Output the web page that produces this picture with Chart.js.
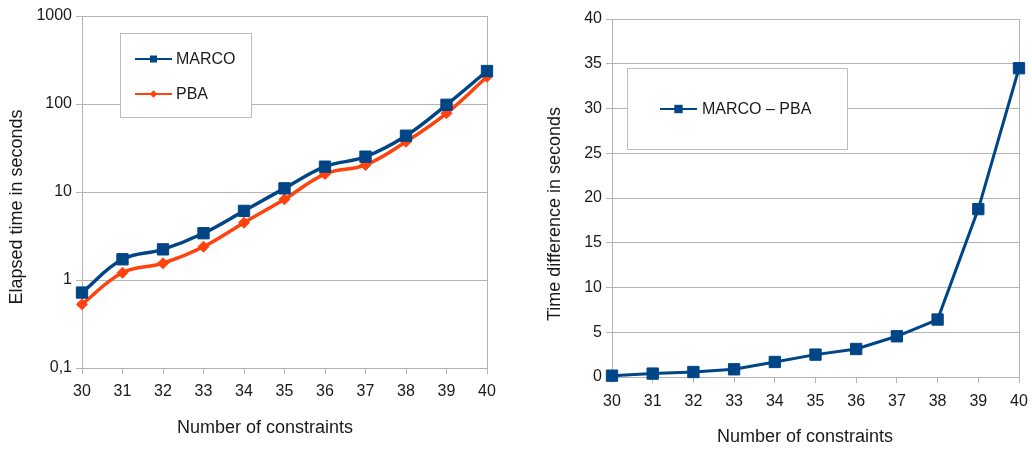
<!DOCTYPE html>
<html>
<head>
<meta charset="utf-8">
<script src="https://cdn.jsdelivr.net/npm/chart.js@4.4.1/dist/chart.umd.min.js"></script>
<style>
  html, body { margin: 0; padding: 0; background: #ffffff; }
  #wrap { position: relative; width: 1032px; height: 453px; }
  #wrap canvas { position: absolute; left: 0; top: 0; }
</style>
</head>
<body>
<div id="wrap">
  <canvas id="timesChart" width="1032" height="453"></canvas>
  <canvas id="diffChart" width="1032" height="453"></canvas>
</div>
<script>
// Number of constraints on the x axis
const constraints = ['30', '31', '32', '33', '34', '35', '36', '37', '38', '39', '40'];

// Elapsed time in seconds
const marcoTimes = [0.72, 1.72, 2.23, 3.4, 6.1, 11.0, 19.4, 25.2, 43.6, 98, 237];
const pbaTimes   = [0.53, 1.21, 1.55, 2.39, 4.48, 8.26, 16.0, 20.3, 37.3, 78.4, 204];

// MARCO minus PBA, in seconds
const timeDiff = [0.15, 0.38, 0.56, 0.86, 1.68, 2.5, 3.13, 4.55, 6.42, 18.76, 34.5];

// Tick labels
const logTickValues = [0.1, 1, 10, 100, 1000];
const logTickLabels = ['0,1', '1', '10', '100', '1000'];
const diffTickValues = [0, 5, 10, 15, 20, 25, 30, 35, 40];
const diffTickLabels = ['0', '5', '10', '15', '20', '25', '30', '35', '40'];

const BLUE = '#004586';
const ORANGE = '#ff420e';
const GRID = '#b3b3b3';
const TEXT = '#1a1a1a';
const FONT = "'Liberation Sans', Arial, sans-serif";

Chart.defaults.font.family = FONT;
Chart.defaults.font.size = 16;
Chart.defaults.color = TEXT;

function drawMarker(ctx, style, x, y, r, color) {
  ctx.save();
  ctx.fillStyle = color;
  ctx.beginPath();
  if (style === 'rect') {
    ctx.rect(x - r, y - r, 2 * r, 2 * r);
  } else {
    ctx.moveTo(x - r, y);
    ctx.lineTo(x, y - r);
    ctx.lineTo(x + r, y);
    ctx.lineTo(x, y + r);
    ctx.closePath();
  }
  ctx.fill();
  ctx.restore();
}

// Plot frame, boxed legend and axis titles
const framePlugin = {
  id: 'frame',
  beforeDatasetsDraw(chart, args, opts) {
    const ctx = chart.ctx;
    const a = chart.chartArea;
    ctx.save();
    ctx.strokeStyle = GRID;
    ctx.lineWidth = 1;
    ctx.beginPath();
    ctx.moveTo(Math.round(a.right) + 0.5, a.top);
    ctx.lineTo(Math.round(a.right) + 0.5, a.bottom);
    ctx.stroke();

    // legend box
    const L = opts.legend;
    ctx.fillStyle = '#ffffff';
    ctx.fillRect(L.x, L.y, L.w, L.h);
    ctx.strokeStyle = '#bdbdbd';
    ctx.strokeRect(L.x + 0.5, L.y + 0.5, L.w, L.h);
    chart.data.datasets.forEach((ds, i) => {
      const e = L.items[i];
      ctx.strokeStyle = ds.borderColor;
      ctx.lineWidth = 2;
      ctx.beginPath();
      ctx.moveTo(e.x1, e.y);
      ctx.lineTo(e.x2, e.y);
      ctx.stroke();
      drawMarker(ctx, ds.pointStyle, (e.x1 + e.x2) / 2, e.y, e.r, ds.borderColor);
      ctx.fillStyle = TEXT;
      ctx.font = '16px ' + FONT;
      ctx.textAlign = 'left';
      ctx.textBaseline = 'middle';
      ctx.fillText(ds.label, e.tx, e.y + 1);
    });

    // axis titles
    ctx.fillStyle = TEXT;
    ctx.font = '18px ' + FONT;
    ctx.textAlign = 'center';
    ctx.textBaseline = 'middle';
    ctx.fillText(opts.xTitle.text, opts.xTitle.x, opts.xTitle.y);
    ctx.save();
    ctx.translate(opts.yTitle.x, opts.yTitle.y);
    ctx.rotate(-Math.PI / 2);
    ctx.fillText(opts.yTitle.text, 0, 0);
    ctx.restore();
    ctx.restore();
  }
};

function xScale(height, pad) {
  return {
    type: 'category',
    offset: false,
    grid: { display: true, drawOnChartArea: false, drawTicks: true, tickLength: 6, color: GRID },
    border: { display: true, color: GRID },
    ticks: { padding: pad, maxRotation: 0, autoSkip: false, font: { size: 16 } },
    afterFit(scale) {
      scale.height = height;
      scale.paddingLeft = 0;
      scale.paddingRight = 0;
    }
  };
}

// Left: elapsed time on a logarithmic axis
new Chart(document.getElementById('timesChart'), {
  type: 'line',
  data: {
    labels: constraints,
    datasets: [
      {
        label: 'MARCO', data: marcoTimes, borderColor: BLUE, backgroundColor: BLUE,
        borderWidth: 3.5, tension: 0.4, pointStyle: 'rect', pointRadius: 8,
        pointBorderWidth: 1, clip: false
      },
      {
        label: 'PBA', data: pbaTimes, borderColor: ORANGE, backgroundColor: ORANGE,
        borderWidth: 3.5, tension: 0.4, pointStyle: 'rectRot', pointRadius: 5.5,
        pointBorderWidth: 1, clip: false
      }
    ]
  },
  options: {
    responsive: false, animation: false, devicePixelRatio: 1,
    layout: { padding: { left: 0, top: 16, right: 545, bottom: 0 } },
    plugins: {
      legend: { display: false }, tooltip: { enabled: false },
      frame: {
        legend: {
          x: 120, y: 33, w: 131, h: 84,
          items: [
            { x1: 135, x2: 172, y: 59, r: 3.5, tx: 176 },
            { x1: 135, x2: 172, y: 94, r: 3.8, tx: 176 }
          ]
        },
        xTitle: { text: 'Number of constraints', x: 265, y: 428 },
        yTitle: { text: 'Elapsed time in seconds', x: 17, y: 207 }
      }
    },
    scales: {
      x: xScale(453 - 368, 8),
      y: {
        type: 'logarithmic', min: 0.1, max: 1000,
        grid: { color: GRID, tickLength: 6 },
        border: { display: true, color: GRID },
        afterBuildTicks(scale) { scale.ticks = logTickValues.map(v => ({ value: v })); },
        ticks: {
          padding: 4, font: { size: 16 },
          callback(value) {
            const i = logTickValues.findIndex(v => Math.abs(v - value) < 1e-9);
            return i >= 0 ? logTickLabels[i] : '';
          }
        },
        afterFit(scale) { scale.width = 82; }
      }
    }
  },
  plugins: [framePlugin]
});

// Right: time difference on a linear axis
new Chart(document.getElementById('diffChart'), {
  type: 'line',
  data: {
    labels: constraints,
    datasets: [
      {
        label: 'MARCO – PBA', data: timeDiff, borderColor: BLUE, backgroundColor: BLUE,
        borderWidth: 3, tension: 0, pointStyle: 'rect', pointRadius: 8,
        pointBorderWidth: 1, clip: false
      }
    ]
  },
  options: {
    responsive: false, animation: false, devicePixelRatio: 1,
    layout: { padding: { left: 520, top: 19, right: 13, bottom: 0 } },
    plugins: {
      legend: { display: false }, tooltip: { enabled: false },
      frame: {
        legend: {
          x: 627, y: 68, w: 220, h: 81,
          items: [ { x1: 660, x2: 697, y: 109, r: 4.2, tx: 702 } ]
        },
        xTitle: { text: 'Number of constraints', x: 805, y: 437 },
        yTitle: { text: 'Time difference in seconds', x: 555, y: 214 }
      }
    },
    scales: {
      x: xScale(453 - 377, 9),
      y: {
        type: 'linear', min: 0, max: 40,
        grid: { color: GRID, tickLength: 6 },
        border: { display: true, color: GRID },
        afterBuildTicks(scale) { scale.ticks = diffTickValues.map(v => ({ value: v })); },
        ticks: {
          padding: 4, font: { size: 16 },
          callback(value) {
            const i = diffTickValues.indexOf(value);
            return i >= 0 ? diffTickLabels[i] : '';
          }
        },
        afterFit(scale) { scale.width = 92; }
      }
    }
  },
  plugins: [framePlugin]
});
</script>
</body>
</html>
